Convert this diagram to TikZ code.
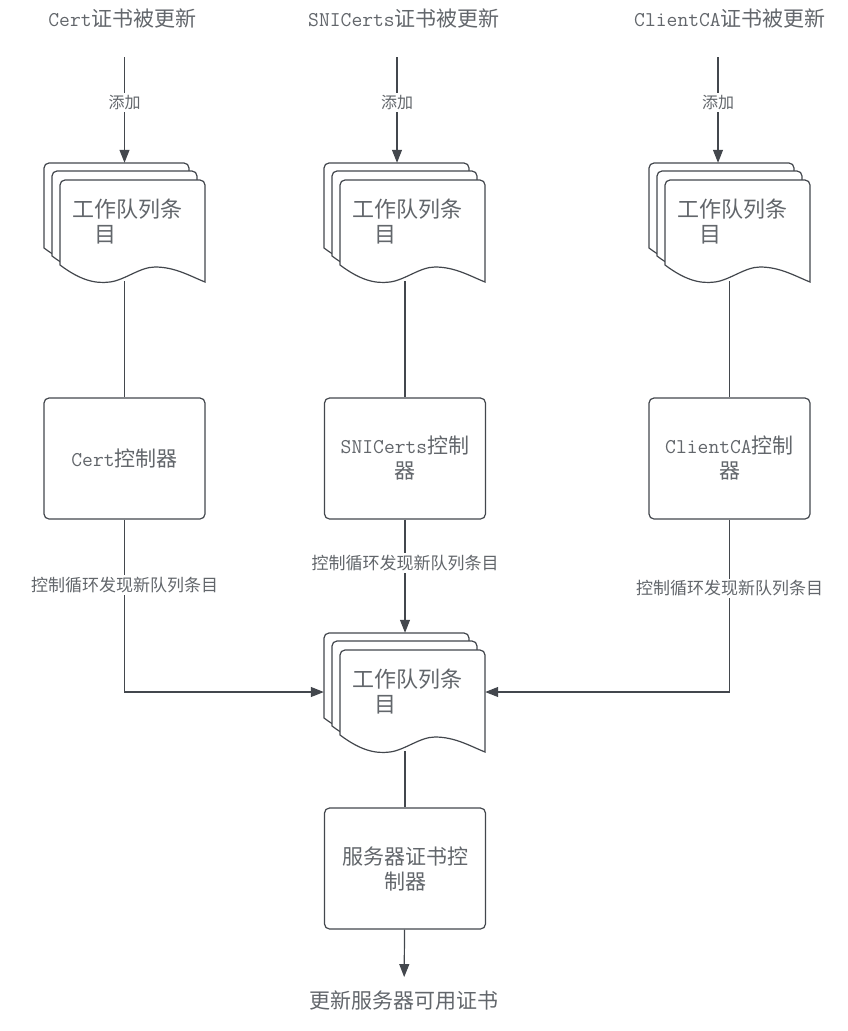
\documentclass[tikz,border=0pt]{standalone}
\usepackage{fontspec}
\setmainfont{Noto Sans CJK SC}
\usepackage{xcolor}
\usetikzlibrary{positioning,arrows.meta,calc}
\definecolor{lncol}{HTML}{43474D}
\definecolor{txtcol}{HTML}{62666B}
\tikzset{
  ln/.style={draw=lncol,line width=1.2pt},
  fl/.style={ln,-{Triangle[length=13pt,width=10pt]}},
  ttl/.style={text=txtcol,font=\fontsize{21}{25}\selectfont,inner sep=2pt},
  lbl/.style={text=txtcol,font=\fontsize{16}{20}\selectfont,fill=white,inner sep=2pt},
  lbl2/.style={text=txtcol,font=\fontsize{17}{20}\selectfont,fill=white,inner sep=2pt},
  ctl/.style={ln,rounded corners=5pt,fill=white,align=center,text=txtcol,
              font=\fontsize{21}{25}\selectfont,minimum width=161pt,minimum height=121pt,inner sep=0pt},
  que/.style={align=left,text=txtcol,font=\fontsize{22}{25}\selectfont,
              minimum width=161pt,minimum height=118pt,inner sep=0pt},
  docpage/.pic={
    \draw[ln,fill=white] (0,85) [rounded corners=5pt] -- (0,0) -- (145,0) -- (145,50)
      [sharp corners] -- (145,102) .. controls (130,96) and (115,87) .. (95,87)
      .. controls (80,87) and (65,100) .. (50,102) .. controls (35,104) and (20,100) .. (0,85) -- cycle;
  },
}
\newcommand{\qtxt}{工作队列条\\\hspace*{1em}目}
\begin{document}
\begin{tikzpicture}[x=1pt,y=-1pt]
\useasboundingbox (0,0) rectangle (847,1031);
% page stacks
\foreach \cx/\ty in {124.5/163, 404.5/163, 729.5/163, 404.5/633}{
  \pic at (\cx-80.5,\ty) {docpage};
  \pic at (\cx-72.5,\ty+8) {docpage};
  \pic at (\cx-64.5,\ty+17) {docpage};
}
% titles
\node[ttl] (t1) at (122.5,18) {{\ttfamily Cert}证书被更新};
\node[ttl] (t2) at (404,18) {{\ttfamily SNICerts}证书被更新};
\node[ttl] (t3) at (730,18) {{\ttfamily ClientCA}证书被更新};
\coordinate (s1) at (124.5,57);
\coordinate (s2) at (397,57);
\coordinate (s3) at (718,57);
% queues
\node[que] (q1) at (127.5,222) {\qtxt};
\node[que] (q2) at (407.5,222) {\qtxt};
\node[que] (q3) at (732.5,222) {\qtxt};
\node[que] (q4) at (407.5,692) {\qtxt};
% controllers
\node[ctl] (c1) at (124.5,458.5) {{\ttfamily Cert}控制器};
\node[ctl] (c2) at (405,458.5) {{\ttfamily SNICerts}控制\\器};
\node[ctl] (c3) at (729.5,458.5) {{\ttfamily ClientCA}控制\\器};
\node[ctl] (c4) at (405,868.5) {服务器证书控\\制器};
\node[ttl] (res) at (404,1001) {更新服务器可用证书};
% flows
\draw[fl] (s1) -- node[lbl,pos=0.43] {添加} (s1 |- q1.north);
\draw[fl] (s2) -- node[lbl,pos=0.43] {添加} (s2 |- q2.north);
\draw[fl] (s3) -- node[lbl,pos=0.43] {添加} (s3 |- q3.north);
\draw[ln] (q1.south -| c1) -- (c1);
\draw[ln] (q2.south -| c2) -- (c2);
\draw[ln] (q3.south -| c3) -- (c3);
\draw[fl] (c1) |- node[lbl2,pos=0.19] {控制循环发现新队列条目} ([xshift=-3pt]q4.west);
\draw[fl] (c2) -- node[lbl2,pos=0.38] {控制循环发现新队列条目} (c2 |- q4.north);
\draw[fl] (c3) |- node[lbl2,pos=0.2] {控制循环发现新队列条目} ([xshift=-3pt]q4.east);
\draw[ln] (c4 |- q4.south) -- (c4);
\draw[fl,shorten >=12pt] (c4) -- (res);
\end{tikzpicture}
\end{document}
